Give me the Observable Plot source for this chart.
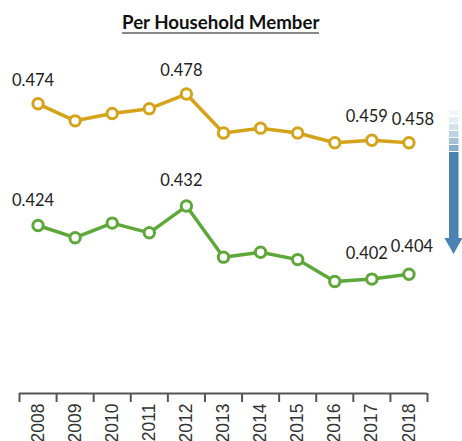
<!DOCTYPE html>
<html><head><meta charset="utf-8">
<script src="https://cdn.jsdelivr.net/npm/d3@7"></script>
<script src="https://cdn.jsdelivr.net/npm/@observablehq/plot@0.6"></script>
<style>
body{margin:0;background:#fff;width:462px;height:441px;overflow:hidden;}
#title{height:40px;position:relative;}
#title span{position:absolute;left:122px;top:13px;font-family:Lato;font-weight:bold;font-size:18.7px;line-height:18px;color:#111;padding-bottom:1px;border-bottom:2px solid #888;white-space:nowrap;}
#chart svg{display:block;}
</style></head><body>
<div id="title"><span>Per Household Member</span></div>
<div id="chart"></div>
<script>
const years = [2008, 2009, 2010, 2011, 2012, 2013, 2014, 2015, 2016, 2017, 2018];
const goldValues = [0.474, 0.467, 0.470, 0.472, 0.478, 0.462, 0.464, 0.462, 0.458, 0.459, 0.458];
const greenValues = [0.424, 0.419, 0.425, 0.421, 0.432, 0.411, 0.413, 0.410, 0.401, 0.402, 0.404];
const labelYears = [2008, 2012, 2017];
const endLabelYears = [2018];

const gold = "#d5a31a";
const green = "#5ea83a";
const data = years.map((year, i) => ({year, gold: goldValues[i], green: greenValues[i]}));
const boundaries = years.map(y => y - 0.5).concat([years[years.length - 1] + 0.5]);
const labeled = data.filter(d => labelYears.includes(d.year));
const endLabeled = data.filter(d => endLabelYears.includes(d.year));

const arrow = () => {
  const g = d3.create("svg:g");
  const off = 40;
  const blocks = [[110, 5, 0.07], [117, 6, 0.14], [124, 6, 0.24], [131, 6, 0.36], [138, 6, 0.5], [145, 6, 0.66]];
  for (const [y, h, o] of blocks) {
    g.append("rect").attr("x", 449).attr("y", y - off).attr("width", 9.5).attr("height", h)
      .attr("fill", "#4a83b2").attr("fill-opacity", o);
  }
  g.append("rect").attr("x", 449).attr("y", 152 - off).attr("width", 9.5).attr("height", 87).attr("fill", "#4a83b2");
  g.append("path").attr("d", `M444.5,${238 - off}L462.5,${238 - off}L453.5,${254 - off}Z`).attr("fill", "#4a83b2");
  return g.node();
};

const txt = {lineAnchor: "bottom", fontSize: 16.5, fill: "#222", fontFamily: "Lato"};

const chart = Plot.plot({
  width: 462, height: 401,
  marginTop: 0, marginBottom: 48, marginLeft: 19, marginRight: 35,
  x: {type: "linear", domain: [2007.5, 2018.5], axis: null, label: null},
  y: {domain: [0.355, 0.500], axis: null, label: null},
  style: {fontFamily: "Lato", background: "white", overflow: "visible"},
  marks: [
    Plot.ruleY([0.355], {stroke: "#555", strokeWidth: 2}),
    Plot.axisX(boundaries, {tickSize: 9, tickFormat: () => "", label: null, stroke: "#555", strokeWidth: 2}),
    Plot.axisX(years, {tickSize: 0, tickPadding: 10, tickRotate: -90, label: null, fontSize: 17.5, fill: "#333", fontFamily: "Liberation Sans", tickFormat: d => String(d)}),
    Plot.line(data, {x: "year", y: "gold", stroke: gold, strokeWidth: 3.5}),
    Plot.dot(data, {x: "year", y: "gold", r: 5.2, fill: "white", stroke: gold, strokeWidth: 3}),
    Plot.line(data, {x: "year", y: "green", stroke: green, strokeWidth: 3.5}),
    Plot.dot(data, {x: "year", y: "green", r: 5.2, fill: "white", stroke: green, strokeWidth: 3}),
    Plot.text(labeled, {x: "year", y: "gold", text: d => d.gold.toFixed(3), dx: -5, dy: -18, ...txt}),
    Plot.text(endLabeled, {x: "year", y: "gold", text: d => d.gold.toFixed(3), dx: 4, dy: -18, ...txt}),
    Plot.text(labeled, {x: "year", y: "green", text: d => d.green.toFixed(3), dx: -5, dy: -20, ...txt}),
    Plot.text(endLabeled, {x: "year", y: "green", text: d => d.green.toFixed(3), dx: 3, dy: -22, ...txt}),
    arrow
  ]
});
document.getElementById("chart").appendChild(chart);
</script>
</body></html>
